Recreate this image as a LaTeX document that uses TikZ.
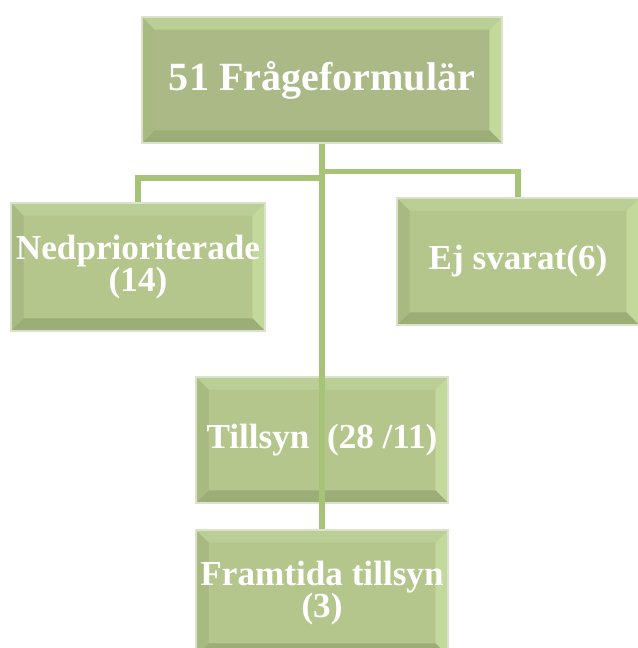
\documentclass[tikz,border=0pt]{standalone}
\usepackage{fontspec}
\setmainfont{Liberation Serif}
\usetikzlibrary{calc}

\definecolor{boxgreen}{HTML}{B4C68C}
\definecolor{topgreen}{HTML}{AAB985}
\definecolor{bevlight}{HTML}{C3D89B}
\definecolor{bevtop}{HTML}{BBCE95}
\definecolor{bevdark}{HTML}{9DAD77}
\definecolor{bevleft}{HTML}{A8B981}
\definecolor{rimgreen}{HTML}{D9E3CB}
\definecolor{linegreen}{HTML}{A6C377}

\tikzset{
  bevelbox/.style={draw=rimgreen, line width=1.5pt, fill=#1, text=white,
    font=\bfseries\fontsize{25}{23}\selectfont, align=center, inner sep=0pt,
    path picture={
      \fill[bevtop] (path picture bounding box.north west) -- (path picture bounding box.north east)
        -- ([shift={(-9pt,-9pt)}]path picture bounding box.north east) -- ([shift={(9pt,-9pt)}]path picture bounding box.north west) -- cycle;
      \fill[bevlight] (path picture bounding box.north east) -- (path picture bounding box.south east)
        -- ([shift={(-9pt,9pt)}]path picture bounding box.south east) -- ([shift={(-9pt,-9pt)}]path picture bounding box.north east) -- cycle;
      \fill[bevdark] (path picture bounding box.south west) -- (path picture bounding box.south east)
        -- ([shift={(-9pt,9pt)}]path picture bounding box.south east) -- ([shift={(9pt,9pt)}]path picture bounding box.south west) -- cycle;
      \fill[bevleft] (path picture bounding box.north west) -- (path picture bounding box.south west)
        -- ([shift={(9pt,9pt)}]path picture bounding box.south west) -- ([shift={(9pt,-9pt)}]path picture bounding box.north west) -- cycle;
    }},
  conn/.style={draw=linegreen, line width=4.2pt}
}

\begin{document}
\begin{tikzpicture}[x=0.025cm, y=-0.025cm]

\useasboundingbox (0,0) rectangle (637,648);

\node[bevelbox=topgreen, minimum width=9cm, minimum height=3.15cm, font=\bfseries\fontsize{28.5}{27}\selectfont] (form) at (322,80) {51 Frågeformulär};
\node[bevelbox=boxgreen, minimum width=6.35cm, minimum height=3.2cm] (nedprio) at (138,267) {Nedprioriterade\\(14)};
\node[bevelbox=boxgreen, minimum width=6.05cm, minimum height=3.175cm] (ejsvar) at (518,261.5) {Ej svarat(6)};
\node[bevelbox=boxgreen, minimum width=6.3cm, minimum height=3.15cm] (tillsyn) at (322,440) {Tillsyn\ \ (28 /11)};
\node[bevelbox=boxgreen, minimum width=6.3cm, minimum height=3.15cm] (framtid) at (322,593) {Framtida tillsyn\\(3)};

\coordinate (jl) at (322,178);
\coordinate (jr) at (322,171.5);

\draw[conn] (jl) -| (nedprio.north);
\draw[conn] (jr) -| (ejsvar.north);
\draw[conn] (form.south) -- (framtid.north);

\end{tikzpicture}
\end{document}
